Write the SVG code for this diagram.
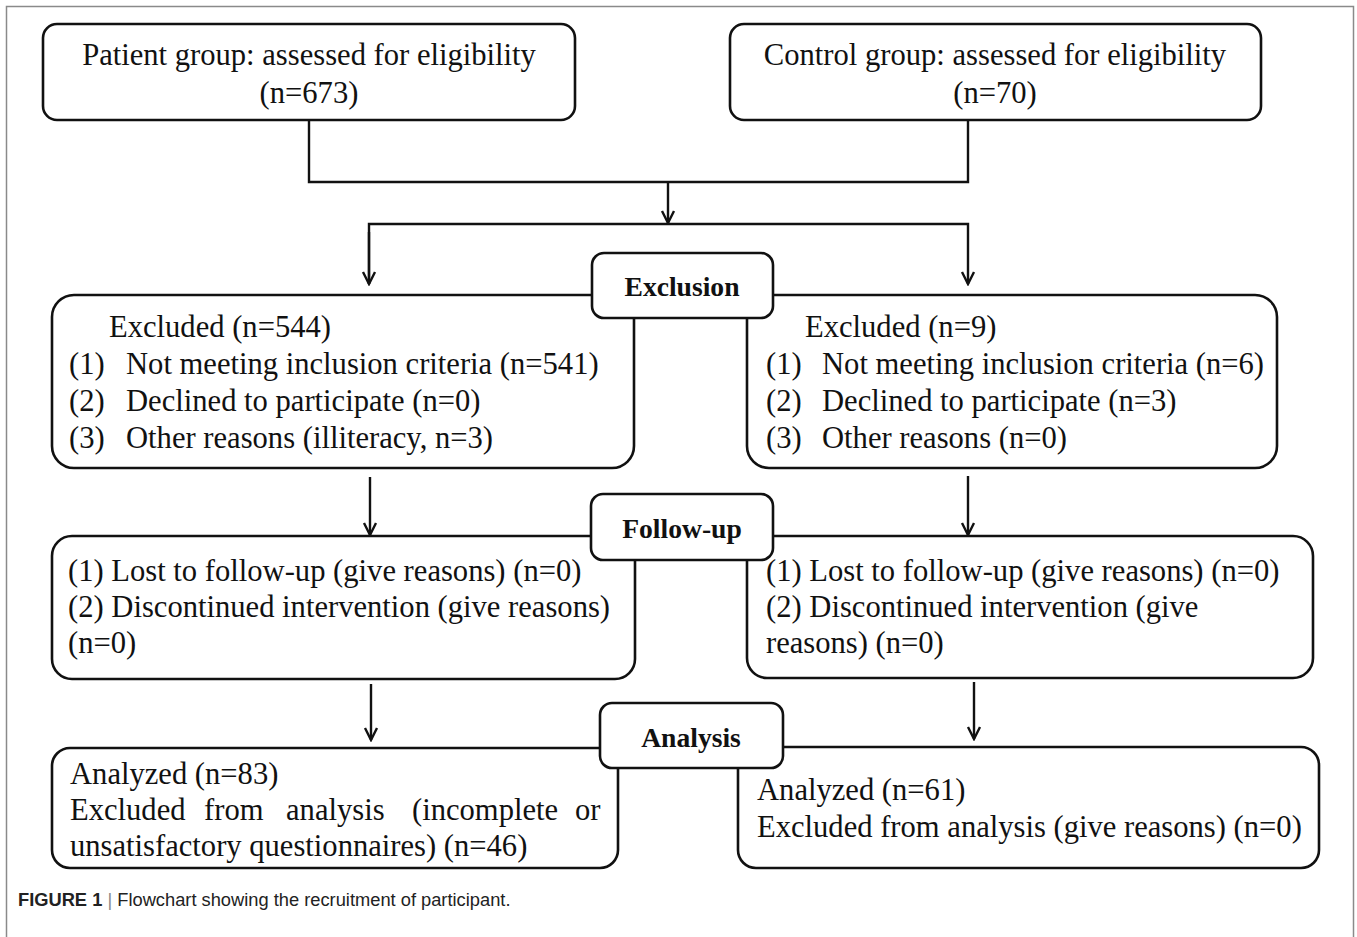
<svg xmlns="http://www.w3.org/2000/svg" width="1357" height="937" viewBox="0 0 1357 937">
<defs>
<style>
.box{fill:#fff;stroke:#111;stroke-width:2.6}
.lbl{fill:#fff;stroke:#111;stroke-width:2.6}
.t{font-family:"Liberation Serif","Times New Roman",serif;font-size:30.6px;fill:#111}
.b{font-family:"Liberation Serif","Times New Roman",serif;font-size:27.6px;font-weight:bold;fill:#111;text-anchor:middle}
.c{fill:none;stroke:#111;stroke-width:2.4}
.cap{font-family:"Liberation Sans",Arial,sans-serif;font-size:18.3px;fill:#222}
</style>
<marker id="ah" viewBox="-14 -8 16 16" refX="0" refY="0" markerWidth="16" markerHeight="16" markerUnits="userSpaceOnUse" orient="auto">
<path d="M-12,-6 L0,0 L-12,6" fill="none" stroke="#111" stroke-width="2.4"/>
</marker>
</defs>
<rect x="0" y="0" width="1357" height="937" fill="#fff"/>
<path d="M6.5,940 V6.5 H1353.5 V940" fill="none" stroke="#8a8a8a" stroke-width="1.5"/>

<g id="connectors">
<path class="c" d="M309,120 V182 H968 V120"/>
<path class="c" d="M668,182 V223" marker-end="url(#ah)"/>
<path class="c" d="M369,284 V224 H968 V284" marker-end="url(#ah)"/>
<path class="c" d="M369,232 V284" marker-end="url(#ah)"/>
<path class="c" d="M370,477 V535" marker-end="url(#ah)"/>
<path class="c" d="M968,476 V535" marker-end="url(#ah)"/>
<path class="c" d="M371,684 V740" marker-end="url(#ah)"/>
<path class="c" d="M974,682 V739" marker-end="url(#ah)"/>
</g>

<g id="patient">
<rect class="box" x="43" y="24" width="532" height="96" rx="14"/>
<text class="t" x="309" y="65" text-anchor="middle">Patient group: assessed for eligibility</text>
<text class="t" x="309" y="103" text-anchor="middle">(n=673)</text>
</g>
<g id="control">
<rect class="box" x="730" y="24" width="531" height="96" rx="14"/>
<text class="t" x="995" y="65" text-anchor="middle">Control group: assessed for eligibility</text>
<text class="t" x="995" y="103" text-anchor="middle">(n=70)</text>
</g>

<g id="excl-left">
<rect class="box" x="52" y="295" width="582" height="173" rx="22"/>
<text class="t" x="109" y="337">Excluded (n=544)</text>
<text class="t" x="69" y="374">(1)</text><text class="t" x="126" y="374">Not meeting inclusion criteria (n=541)</text>
<text class="t" x="69" y="411">(2)</text><text class="t" x="126" y="411">Declined to participate (n=0)</text>
<text class="t" x="69" y="448">(3)</text><text class="t" x="126" y="448">Other reasons (illiteracy, n=3)</text>
</g>
<g id="excl-right">
<rect class="box" x="747" y="295" width="530" height="173" rx="22"/>
<text class="t" x="805" y="337">Excluded (n=9)</text>
<text class="t" x="766" y="374">(1)</text><text class="t" x="822" y="374">Not meeting inclusion criteria (n=6)</text>
<text class="t" x="766" y="411">(2)</text><text class="t" x="822" y="411">Declined to participate (n=3)</text>
<text class="t" x="766" y="448">(3)</text><text class="t" x="822" y="448">Other reasons (n=0)</text>
</g>
<g id="exclusion">
<rect class="lbl" x="592" y="253" width="181" height="65" rx="12"/>
<text class="b" x="682" y="296">Exclusion</text>
</g>

<g id="follow-left">
<rect class="box" x="52" y="536" width="583" height="143" rx="20"/>
<text class="t" x="68" y="581">(1) Lost to follow-up (give reasons) (n=0)</text>
<text class="t" x="68" y="617">(2) Discontinued intervention (give reasons)</text>
<text class="t" x="68" y="653">(n=0)</text>
</g>
<g id="follow-right">
<rect class="box" x="747" y="536" width="566" height="142" rx="20"/>
<text class="t" x="766" y="581">(1) Lost to follow-up (give reasons) (n=0)</text>
<text class="t" x="766" y="617">(2) Discontinued intervention (give</text>
<text class="t" x="766" y="653">reasons) (n=0)</text>
</g>
<g id="followup">
<rect class="lbl" x="591" y="494" width="182" height="66" rx="12"/>
<text class="b" x="682" y="538">Follow-up</text>
</g>

<g id="analysis-left">
<rect class="box" x="52" y="748" width="566" height="120" rx="18"/>
<text class="t" x="70" y="784">Analyzed (n=83)</text>
<text class="t" y="820"><tspan x="70">Excluded</tspan><tspan x="204">from</tspan><tspan x="286">analysis</tspan><tspan x="412">(incomplete</tspan><tspan x="575">or</tspan></text>
<text class="t" x="70" y="856">unsatisfactory questionnaires) (n=46)</text>
</g>
<g id="analysis-right">
<rect class="box" x="738" y="747" width="581" height="121" rx="18"/>
<text class="t" x="757" y="800">Analyzed (n=61)</text>
<text class="t" x="757" y="837">Excluded from analysis (give reasons) (n=0)</text>
</g>
<g id="analysis">
<rect class="lbl" x="600" y="703" width="183" height="65" rx="12"/>
<text class="b" x="691" y="747">Analysis</text>
</g>

<text class="cap" x="18" y="906"><tspan font-weight="bold">FIGURE 1</tspan> <tspan fill="#888">|</tspan> Flowchart showing the recruitment of participant.</text>
</svg>
